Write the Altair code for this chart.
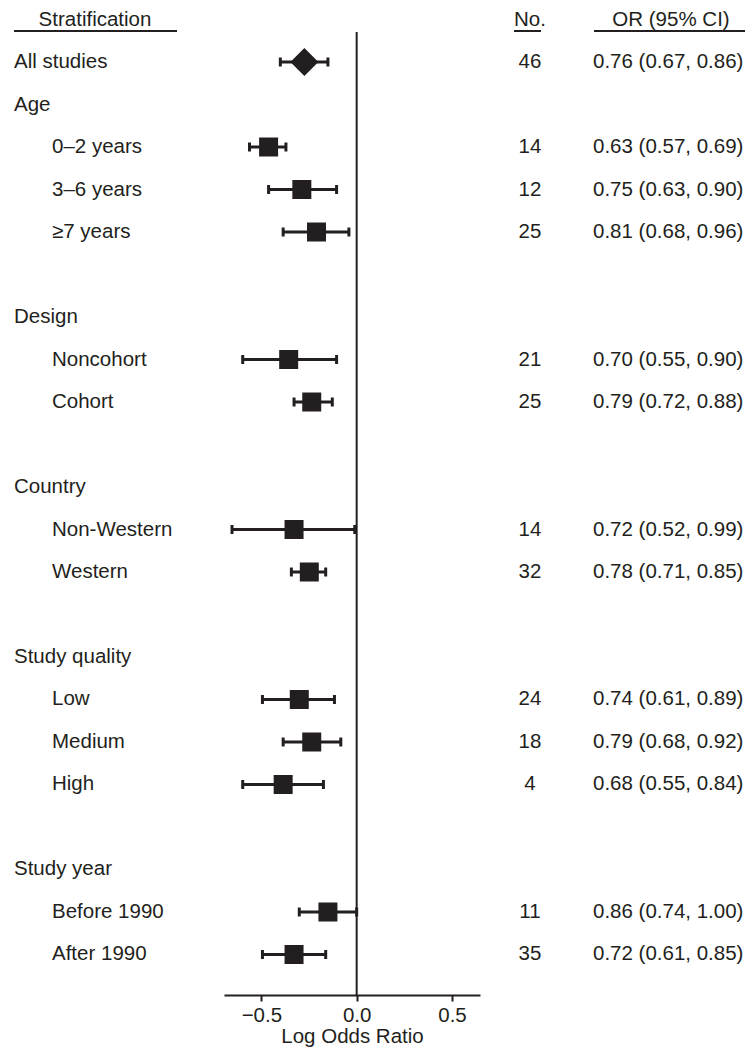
import altair as alt
import pandas as pd

# ---- data ----
labels = ["All studies", "Age", "0–2 years", "3–6 years", "≥7 years",
          "Design", "Noncohort", "Cohort",
          "Country", "Non-Western", "Western",
          "Study quality", "Low", "Medium", "High",
          "Study year", "Before 1990", "After 1990"]
rows = [0, 1, 2, 3, 4, 6, 7, 8, 10, 11, 12, 14, 15, 16, 17, 19, 20, 21]
kinds = ["overall", "group", "sub", "sub", "sub",
         "group", "sub", "sub",
         "group", "sub", "sub",
         "group", "sub", "sub", "sub",
         "group", "sub", "sub"]
n_studies = [46, None, 14, 12, 25, None, 21, 25, None, 14, 32, None, 24, 18, 4, None, 11, 35]
odds = [0.76, None, 0.63, 0.75, 0.81, None, 0.70, 0.79, None, 0.72, 0.78, None, 0.74, 0.79, 0.68, None, 0.86, 0.72]
ci_low = [0.67, None, 0.57, 0.63, 0.68, None, 0.55, 0.72, None, 0.52, 0.71, None, 0.61, 0.68, 0.55, None, 0.74, 0.61]
ci_high = [0.86, None, 0.69, 0.90, 0.96, None, 0.90, 0.88, None, 0.99, 0.85, None, 0.89, 0.92, 0.84, None, 1.00, 0.85]
x_ticks = [-0.5, 0.0, 0.5]

est_text = [
    (f"{o:.2f} ({l:.2f}, {h:.2f})" if o is not None else "")
    for o, l, h in zip(odds, ci_low, ci_high)
]
n_text = [(str(n) if n is not None else "") for n in n_studies]

df = pd.DataFrame({
    "label": labels, "row": rows, "kind": kinds,
    "n": n_text, "or": odds, "lo": ci_low, "hi": ci_high, "est": est_text,
})

# ---- styling ----
C = "#231f20"
F = "Liberation Sans"
FS = 20.5
W, H = 256, 963
X0 = 224  # page x of plot-area left edge (for text-column placement)

xs = alt.Scale(domain=[-0.696, 0.647], nice=False, zero=False)
ys = alt.Scale(domain=[-0.706, 21.953], reverse=True, nice=False, zero=False)
xaxis = alt.Axis(values=x_ticks, format=".1f", title="Log Odds Ratio", grid=False)

base = alt.Chart(df)
Y = alt.Y("row:Q", scale=ys, axis=None)

est = base.transform_filter("isValid(datum.or) && datum.or !== null").transform_calculate(
    lor="log(datum.or)", llo="log(datum.lo)", lhi="log(datum.hi)")

whisk = est.mark_rule(strokeWidth=3, color=C).encode(
    x=alt.X("llo:Q", scale=xs, axis=xaxis), x2="lhi:Q", y=Y)
cap_lo = est.mark_tick(orient="vertical", size=9, thickness=3, color=C, opacity=1).encode(
    x=alt.X("llo:Q", scale=xs, axis=xaxis), y=Y)
cap_hi = est.mark_tick(orient="vertical", size=9, thickness=3, color=C, opacity=1).encode(
    x=alt.X("lhi:Q", scale=xs, axis=xaxis), y=Y)
squares = est.transform_filter("datum.kind == 'sub'").mark_square(
    size=361, color=C, opacity=1, filled=True).encode(
    x=alt.X("lor:Q", scale=xs, axis=xaxis), y=Y)
diamond = est.transform_filter("datum.kind == 'overall'").mark_point(
    shape="diamond", size=784, color=C, opacity=1, filled=True).encode(
    x=alt.X("lor:Q", scale=xs, axis=xaxis), y=Y)

zero_line = alt.Chart(pd.DataFrame({"z": [0.0]})).mark_rule(strokeWidth=2, color=C).encode(
    x=alt.X("z:Q", scale=xs, axis=xaxis), y=alt.value(0), y2=alt.value(H))

txt = dict(font=F, fontSize=FS, color=C, baseline="middle")
group_lbl = base.transform_filter("datum.kind != 'sub'").mark_text(align="left", **txt).encode(
    x=alt.value(14 - X0), y=Y, text="label:N")
sub_lbl = base.transform_filter("datum.kind == 'sub'").mark_text(align="left", **txt).encode(
    x=alt.value(52 - X0), y=Y, text="label:N")
n_col = base.transform_filter("datum.n != ''").mark_text(align="center", **txt).encode(
    x=alt.value(530 - X0), y=Y, text="n:N")
est_col = base.transform_filter("datum.est != ''").mark_text(align="left", **txt).encode(
    x=alt.value(593 - X0), y=Y, text="est:N")

hdr_df = pd.DataFrame({"t": ["Stratification"]})
h1 = alt.Chart(hdr_df).mark_text(align="center", **txt).encode(
    x=alt.value(95 - X0), y=alt.value(-12), text="t:N")
h2 = alt.Chart(pd.DataFrame({"t": ["No."]})).mark_text(align="center", **txt).encode(
    x=alt.value(530 - X0), y=alt.value(-12), text="t:N")
h3 = alt.Chart(pd.DataFrame({"t": ["OR (95% CI)"]})).mark_text(align="center", **txt).encode(
    x=alt.value(671 - X0), y=alt.value(-12), text="t:N")

u1 = alt.Chart(hdr_df).mark_rule(strokeWidth=2, color=C).encode(
    x=alt.value(14 - X0), x2=alt.value(177 - X0), y=alt.value(-1))
u2 = alt.Chart(hdr_df).mark_rule(strokeWidth=2, color=C).encode(
    x=alt.value(514 - X0), x2=alt.value(541 - X0), y=alt.value(-1))
u3 = alt.Chart(hdr_df).mark_rule(strokeWidth=2, color=C).encode(
    x=alt.value(594 - X0), x2=alt.value(745 - X0), y=alt.value(-1))

chart = alt.layer(
    zero_line, whisk, cap_lo, cap_hi, squares, diamond,
    group_lbl, sub_lbl, n_col, est_col, h1, h2, h3, u1, u2, u3,
).properties(
    width=W, height=H,
    autosize=alt.AutoSizeParams(type="none"),
    padding={"left": X0 - 8, "top": 24, "right": 265, "bottom": 52},
).configure_view(stroke=None).configure_axis(
    domainColor=C, domainWidth=2, tickColor=C, tickWidth=2, tickSize=6,
    labelFont=F, labelFontSize=FS, labelColor=C, labelPadding=4,
    titleFont=F, titleFontSize=FS, titleColor=C, titleFontWeight="normal", titlePadding=1,
)

chart.save("out.html", embed_options={"renderer": "svg", "actions": False})
